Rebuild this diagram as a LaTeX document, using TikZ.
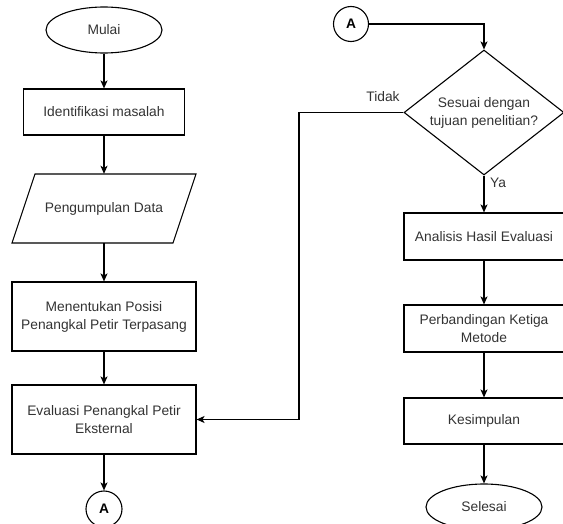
\documentclass[tikz,border=0pt]{standalone}
\usepackage{fontspec}
\setmainfont{Liberation Sans}
\usetikzlibrary{shapes.geometric,arrows.meta}
\begin{document}
\begin{tikzpicture}[x=1pt,y=-1pt,
  every node/.style={font=\fontsize{13.8}{18}\selectfont, text=black!80},
  box/.style={draw=black, line width=1.1pt, rectangle, inner sep=0pt, align=center},
  term/.style={draw=black, line width=1.1pt, ellipse, inner sep=0pt, minimum width=116pt, minimum height=46pt},
  conn/.style={draw=black, line width=1.1pt, circle, inner sep=0pt, minimum size=35pt, font=\fontsize{13.8}{18}\selectfont\bfseries, text=black},
  dec/.style={draw=black, line width=1.1pt, diamond, aspect=1.28, inner sep=0pt, minimum width=160pt, minimum height=125pt, align=center},
  arr/.style={draw=black, line width=1.1pt, -{Stealth[length=8pt,width=7pt,inset=2pt]}},
  lbl/.style={inner sep=0pt, text=black!80}
]
\useasboundingbox (0,0) rectangle (563,524);
\clip (0,0) rectangle (563,524);
% left column
\node[term] (mulai) at (104,30) {Mulai};
\node[box, minimum width=161pt, minimum height=46pt] (ident) at (104,112) {Identifikasi masalah};
\draw[line width=1.1pt] (35,174) -- (196,174) -- (173,243) -- (12,243) -- cycle;
\node[inner sep=0pt, minimum width=161pt, minimum height=69pt] (peng) at (104,208.5) {Pengumpulan Data};
\node[box, minimum width=184pt, minimum height=69pt] (menent) at (104,316.5) {Menentukan Posisi\\Penangkal Petir Terpasang};
\node[box, minimum width=184pt, minimum height=69pt] (eval) at (104,419.5) {Evaluasi Penangkal Petir\\Eksternal};
\node[conn, minimum size=36pt] (a1) at (104,509) {A};
% right column
\node[conn] (a2) at (351,24) {A};
\node[dec] (dec) at (484,112.5) {Sesuai dengan\\tujuan penelitian?};
\node[box, minimum width=160pt, minimum height=47pt] (anal) at (484,236.5) {Analisis Hasil Evaluasi};
\node[box, minimum width=160pt, minimum height=47pt] (perb) at (484,328.5) {Perbandingan Ketiga\\Metode};
\node[box, minimum width=160pt, minimum height=46pt] (kesim) at (484,421) {Kesimpulan};
\node[term] (selesai) at (484,507) {Selesai};
\coordinate (fbtop) at (299,112.5);
\coordinate (fbbot) at (299,419.5);
% connectors
\draw[arr] (mulai) -- (ident);
\draw[arr] (ident) -- (peng);
\draw[arr] (peng) -- (menent);
\draw[arr] (menent) -- (eval);
\draw[arr] (eval) -- (a1);
\draw[arr] (a2.east) -| (dec.north);
\draw[arr] (dec.south) -- (anal.north);
\draw[arr] (anal) -- (perb);
\draw[arr] (perb) -- (kesim);
\draw[arr] (kesim) -- (selesai);
\draw[arr] (dec.west) -- (fbtop) -- (fbbot) -- (eval.east);
\node[lbl] (tidak) at (383,97) {Tidak};
\node[lbl] (ya) at (498,183) {Ya};
\end{tikzpicture}
\end{document}
